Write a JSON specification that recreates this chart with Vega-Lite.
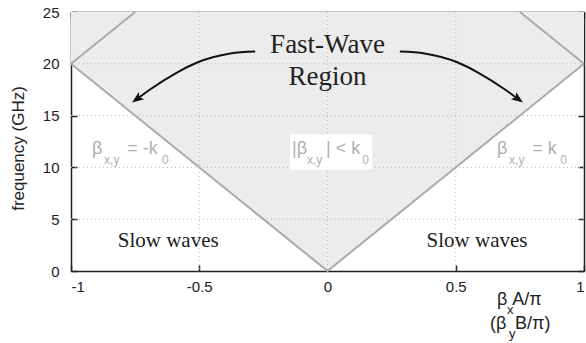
{
  "$schema": "https://vega.github.io/schema/vega-lite/v6.json",
  "width": 513,
  "height": 259,
  "autosize": {"type": "none"},
  "padding": {"left": 71, "top": 12, "right": 2, "bottom": 72},
  "background": "white",
  "config": {
    "view": {"stroke": null},
    "axis": {
      "grid": false,
      "domainColor": "#222",
      "domainWidth": 1.5,
      "tickColor": "#222",
      "tickWidth": 1.5,
      "labelFont": "Liberation Sans",
      "labelFontSize": 15,
      "labelColor": "#222",
      "titleFont": "Liberation Sans",
      "titleFontWeight": "normal",
      "titleColor": "#222"
    }
  },
  "datasets": {
    "region": [
      {"x": -1, "f": 20},
      {"x": 0, "f": 0},
      {"x": 1, "f": 20}
    ],
    "gridx": [{"g": -0.5}, {"g": 0}, {"g": 0.5}],
    "gridy": [{"g": 5}, {"g": 10}, {"g": 15}, {"g": 20}],
    "box": [{"x1": -0.146, "x2": 0.174, "f1": 9.8, "f2": 13.18}],
    "lines": [
      {"s": "v", "x": -1, "f": 20},
      {"s": "v", "x": 0, "f": 0},
      {"s": "v", "x": 1, "f": 20},
      {"s": "l", "x": -1, "f": 20},
      {"s": "l", "x": -0.75, "f": 25},
      {"s": "r", "x": 0.75, "f": 25},
      {"s": "r", "x": 1, "f": 20}
    ],
    "greytext": [
      {"t": "β", "x": -0.918, "f": 11.73, "k": "main"},
      {"t": "x,y", "x": -0.871, "f": 10.7, "k": "sub"},
      {"t": "= -k", "x": -0.781, "f": 11.73, "k": "main"},
      {"t": "0", "x": -0.645, "f": 10.7, "k": "sub"},
      {"t": "|β", "x": -0.138, "f": 11.73, "k": "main"},
      {"t": "x,y", "x": -0.08, "f": 10.7, "k": "sub"},
      {"t": "| < k", "x": -0.006, "f": 11.73, "k": "main"},
      {"t": "0", "x": 0.135, "f": 10.7, "k": "sub"},
      {"t": "β", "x": 0.661, "f": 11.73, "k": "main"},
      {"t": "x,y", "x": 0.708, "f": 10.7, "k": "sub"},
      {"t": "= k", "x": 0.798, "f": 11.73, "k": "main"},
      {"t": "0", "x": 0.907, "f": 10.7, "k": "sub"}
    ],
    "arrows": [
      {"a": "L", "x": -0.282, "f": 21.19},
      {"a": "L", "x": -0.379, "f": 21.0},
      {"a": "L", "x": -0.508, "f": 20.13},
      {"a": "L", "x": -0.587, "f": 19.16},
      {"a": "L", "x": -0.692, "f": 17.52},
      {"a": "L", "x": -0.75, "f": 16.46},
      {"a": "R", "x": 0.282, "f": 21.19},
      {"a": "R", "x": 0.379, "f": 21.0},
      {"a": "R", "x": 0.508, "f": 20.13},
      {"a": "R", "x": 0.587, "f": 19.16},
      {"a": "R", "x": 0.692, "f": 17.52},
      {"a": "R", "x": 0.75, "f": 16.46}
    ],
    "headL": [{"x": -0.762, "f": 16.26}],
    "headR": [{"x": 0.762, "f": 16.26}],
    "serif": [
      {"t": "Fast-Wave", "x": 0, "f": 21.85, "k": "big"},
      {"t": "Region", "x": 0, "f": 18.77, "k": "big"},
      {"t": "Slow waves", "x": -0.621, "f": 2.85, "k": "mid"},
      {"t": "Slow waves", "x": 0.583, "f": 2.85, "k": "mid"}
    ],
    "xtitle": [
      {"t": "β", "x": 0.661, "f": -2.8, "k": "main"},
      {"t": "x", "x": 0.7, "f": -3.75, "k": "sub"},
      {"t": "A/π", "x": 0.72, "f": -2.8, "k": "main"},
      {"t": "(β", "x": 0.634, "f": -5.1, "k": "main"},
      {"t": "y", "x": 0.708, "f": -6.1, "k": "sub"},
      {"t": "B/π)", "x": 0.731, "f": -5.1, "k": "main"}
    ]
  },
  "resolve": {"axis": {"x": "independent", "y": "independent"}, "scale": {"size": "independent"}},
  "layer": [
    {
      "data": {"name": "region"},
      "mark": {"type": "area", "color": "#ececec", "opacity": 1},
      "encoding": {
        "x": {
          "field": "x", "type": "quantitative",
          "scale": {"domain": [-1, 1], "nice": false, "zero": false},
          "axis": {"orient": "bottom", "values": [-1, -0.5, 0, 0.5, 1], "labelExpr": "toString(datum.value)", "tickSize": -6, "labelPadding": 14, "title": null}
        },
        "y": {
          "field": "f", "type": "quantitative",
          "scale": {"domain": [0, 25], "nice": false, "zero": false},
          "axis": {"orient": "left", "values": [0, 5, 10, 15, 20, 25], "tickSize": -6, "labelPadding": 18, "title": "frequency (GHz)", "titleFontSize": 17, "titlePadding": 15, "titleY": 136}
        },
        "y2": {"datum": 25}
      }
    },
    {
      "data": {"name": "gridx"},
      "mark": {"type": "rule", "color": "#bbbbbb", "strokeWidth": 1, "strokeDash": [1, 3]},
      "encoding": {"x": {"field": "g", "type": "quantitative", "axis": null}}
    },
    {
      "data": {"name": "gridy"},
      "mark": {"type": "rule", "color": "#bbbbbb", "strokeWidth": 1, "strokeDash": [1, 3]},
      "encoding": {"y": {"field": "g", "type": "quantitative", "axis": null}}
    },
    {
      "data": {"name": "box"},
      "mark": {"type": "rect", "color": "white"},
      "encoding": {
        "x": {"field": "x1", "type": "quantitative", "axis": null},
        "x2": {"field": "x2"},
        "y": {"field": "f1", "type": "quantitative", "axis": null},
        "y2": {"field": "f2"}
      }
    },
    {
      "data": {"name": "lines"},
      "mark": {"type": "line", "color": "#aaaaaa", "strokeWidth": 2},
      "encoding": {
        "x": {"field": "x", "type": "quantitative", "axis": {"orient": "top", "values": [-1, -0.5, 0, 0.5, 1], "labels": false, "tickSize": -6, "title": null}},
        "y": {"field": "f", "type": "quantitative", "axis": {"orient": "right", "values": [0, 5, 10, 15, 20, 25], "labels": false, "tickSize": -6, "title": null}},
        "detail": {"field": "s", "type": "nominal"},
        "order": {"field": "x", "type": "quantitative"}
      }
    },
    {
      "data": {"name": "greytext"},
      "mark": {"type": "text", "align": "left", "baseline": "middle", "font": "Liberation Sans", "color": "#b0b0b0"},
      "encoding": {
        "x": {"field": "x", "type": "quantitative", "axis": null},
        "y": {"field": "f", "type": "quantitative", "axis": null},
        "text": {"field": "t"},
        "size": {"field": "k", "type": "ordinal", "scale": {"domain": ["main", "sub"], "range": [18, 12]}, "legend": null}
      }
    },
    {
      "data": {"name": "arrows"},
      "mark": {"type": "line", "color": "#111111", "strokeWidth": 2, "interpolate": "monotone"},
      "encoding": {
        "x": {"field": "x", "type": "quantitative", "axis": null},
        "y": {"field": "f", "type": "quantitative", "axis": null},
        "detail": {"field": "a", "type": "nominal"}
      }
    },
    {
      "data": {"name": "headL"},
      "mark": {"type": "point", "shape": "M0,0L-0.5,1.3L0,1L0.5,1.3Z", "filled": true, "color": "#111111", "opacity": 1, "size": 324, "angle": 234},
      "encoding": {
        "x": {"field": "x", "type": "quantitative", "axis": null},
        "y": {"field": "f", "type": "quantitative", "axis": null}
      }
    },
    {
      "data": {"name": "headR"},
      "mark": {"type": "point", "shape": "M0,0L-0.5,1.3L0,1L0.5,1.3Z", "filled": true, "color": "#111111", "opacity": 1, "size": 324, "angle": 126},
      "encoding": {
        "x": {"field": "x", "type": "quantitative", "axis": null},
        "y": {"field": "f", "type": "quantitative", "axis": null}
      }
    },
    {
      "data": {"name": "serif"},
      "mark": {"type": "text", "align": "center", "baseline": "middle", "font": "Liberation Serif", "color": "#222222"},
      "encoding": {
        "x": {"field": "x", "type": "quantitative", "axis": null},
        "y": {"field": "f", "type": "quantitative", "axis": null},
        "text": {"field": "t"},
        "size": {"field": "k", "type": "ordinal", "scale": {"domain": ["big", "mid"], "range": [27, 21]}, "legend": null}
      }
    },
    {
      "data": {"name": "xtitle"},
      "mark": {"type": "text", "align": "left", "baseline": "middle", "font": "Liberation Sans", "color": "#222222"},
      "encoding": {
        "x": {"field": "x", "type": "quantitative", "axis": null},
        "y": {"field": "f", "type": "quantitative", "axis": null},
        "text": {"field": "t"},
        "size": {"field": "k", "type": "ordinal", "scale": {"domain": ["main", "sub"], "range": [18, 13]}, "legend": null}
      }
    }
  ]
}
